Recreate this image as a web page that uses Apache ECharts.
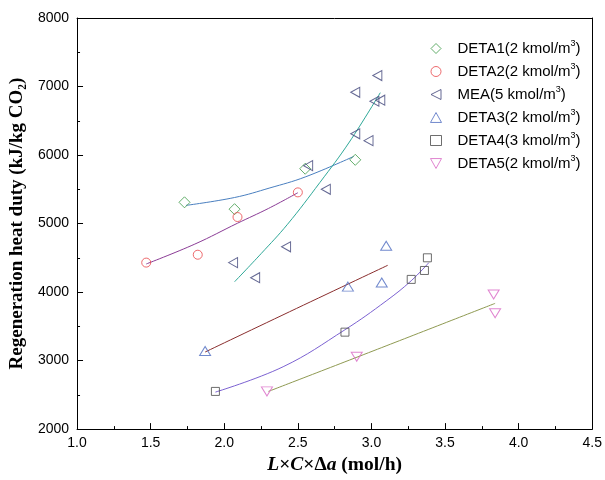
<!DOCTYPE html>
<html><head><meta charset="utf-8">
<script src="https://cdn.jsdelivr.net/npm/echarts@6/dist/echarts.min.js"></script>
<style>html,body{margin:0;padding:0;background:#fff}#c{width:605px;height:480px}</style>
</head><body><div id="c"></div>
<script>
const names = ['DETA1', 'DETA2', 'MEA', 'DETA3', 'DETA4', 'DETA5'];
const concs = ['2', '2', '5', '2', '3', '2'];
const deta1X = [1.73, 2.07, 2.55, 2.89];
const deta1Y = [5310, 5210, 5800, 5930];
const deta2X = [1.47, 1.82, 2.09, 2.50];
const deta2Y = [4430, 4545, 5095, 5455];
const meaX = [2.06, 2.21, 2.42, 2.57, 2.69, 2.89, 2.98, 2.89, 3.02, 3.06, 3.04];
const meaY = [4430, 4210, 4660, 5845, 5500, 6310, 6210, 6915, 6785, 6800, 7160];
const deta3X = [1.87, 2.84, 3.07, 3.10];
const deta3Y = [3140, 4080, 4140, 4675];
const deta4X = [1.94, 2.82, 3.27, 3.36, 3.38];
const deta4Y = [2550, 3415, 4185, 4315, 4500];
const deta5X = [2.29, 2.90, 3.83, 3.84];
const deta5Y = [2550, 3055, 3965, 3690];
// fitted curves
const fit1X = [1.74, 2.07, 2.31, 2.55, 2.88];
const fit1Y = [5265, 5380, 5520, 5680, 5980];
const fit2X = [1.47, 1.80, 2.09, 2.30, 2.50];
const fit2Y = [4410, 4700, 5005, 5220, 5450];
const fitMX = [2.07, 2.25, 2.43, 2.65, 2.85, 3.06];
const fitMY = [4150, 4560, 4990, 5600, 6190, 6910];
const fit3X = [1.87, 2.49, 3.11];
const fit3Y = [3125, 3760, 4390];
const fit4X = [1.94, 2.40, 2.82, 3.10, 3.27, 3.39];
const fit4Y = [2540, 2910, 3450, 3870, 4165, 4430];
const fit5X = [2.30, 3.07, 3.84];
const fit5Y = [2550, 3190, 3835];

const zip = (xs, ys) => xs.map((x, i) => [x, ys[i]]);
const ptsX = [deta1X, deta2X, meaX, deta3X, deta4X, deta5X];
const ptsY = [deta1Y, deta2Y, meaY, deta3Y, deta4Y, deta5Y];
const markColors = ['#3c9a46', '#e8464a', '#3d4278', '#4d6cc0', '#4a4a4a', '#d866c4'];
const symbols = ['path://M5,0 L10,5 L5,10 L0,5 Z', 'circle', 'path://M0,5 L10,0 L10,10 Z',
  'path://M5,0 L10,9 L0,9 Z', 'rect', 'path://M0,0 L10,0 L5,9 Z'];
const sizes = [[11, 11], 9, [9, 10], [11, 9], [8, 8], [11, 9]];
const fitX = [fit1X, fit2X, fitMX, fit3X, fit4X, fit5X];
const fitY = [fit1Y, fit2Y, fitMY, fit3Y, fit4Y, fit5Y];
const fitColors = ['#4a7fc0', '#8b3c96', '#2ea898', '#8a2e2e', '#7c62d2', '#8f9a52'];

const series = [];
names.forEach((n, i) => {
  series.push({
    name: n, type: 'scatter', data: zip(ptsX[i], ptsY[i]),
    symbol: symbols[i], symbolSize: sizes[i],
    itemStyle: { color: 'rgba(255,255,255,0)', borderColor: markColors[i], borderWidth: 1 },
    z: 3
  });
});
names.forEach((n, i) => {
  series.push({
    name: n + ' fit', type: 'line', data: zip(fitX[i], fitY[i]),
    smooth: 0.4, showSymbol: false, symbol: 'none',
    lineStyle: { color: fitColors[i], width: 1 }, z: 2
  });
});

const chart = echarts.init(document.getElementById('c'), null, { renderer: 'canvas' });
chart.setOption({
  animation: false,
  backgroundColor: '#fff',
  grid: { left: 76, right: 12, top: 18, bottom: 47 },
  legend: {
    data: names, orient: 'vertical', left: 425, top: 34,
    itemWidth: 11, itemHeight: 10, itemGap: 6,
    itemStyle: { borderWidth: 1 },
    formatter: function (name) {
      const i = names.indexOf(name);
      return '{a|' + name + '(' + concs[i] + ' kmol/m}{s|3}{a|)}';
    },
    textStyle: {
      color: '#000', padding: [0, 0, 0, 11],
      rich: {
        a: { fontFamily: 'Liberation Sans, Arial', fontSize: 15, color: '#000' },
        s: { fontFamily: 'Liberation Sans, Arial', fontSize: 9, color: '#000', padding: [0, 0, 10, 0] }
      }
    }
  },
  xAxis: [{
    type: 'value', min: 1.0, max: 4.5, interval: 0.5,
    name: '{i|L}{n|×}{i|C}{n|×Δ}{i|a}{n| (mol/h)}', nameLocation: 'middle', nameGap: 24,
    nameTextStyle: {
      rich: {
        i: { fontFamily: 'Liberation Serif, Times New Roman', fontSize: 19.5, fontWeight: 'bold', fontStyle: 'italic', color: '#000' },
        n: { fontFamily: 'Liberation Serif, Times New Roman', fontSize: 19.5, fontWeight: 'bold', color: '#000' }
      }
    },
    axisLine: { lineStyle: { color: '#000', width: 1 } },
    axisTick: { inside: true, length: 6, lineStyle: { color: '#000' } },
    minorTick: { show: true, splitNumber: 2, length: 3, lineStyle: { color: '#000' } },
    axisLabel: { formatter: v => v.toFixed(1), color: '#000', fontSize: 14, margin: 7, fontFamily: 'Liberation Sans, Arial' },
    splitLine: { show: false }
  }, {
    type: 'value', position: 'top', min: 1.0, max: 4.5, interval: 0.5,
    axisLine: { show: true, lineStyle: { color: '#000', width: 1 } },
    axisTick: { show: false }, axisLabel: { show: false }, splitLine: { show: false }
  }],
  yAxis: [{
    type: 'value', min: 2000, max: 8000, interval: 1000,
    name: 'Regeneration heat duty (kJ/kg CO₂)', nameLocation: 'middle', nameGap: 40, nameRotate: 90,
    nameTextStyle: { fontFamily: 'Liberation Serif, Times New Roman', fontSize: 19, fontWeight: 'bold', color: '#000' },
    axisLine: { show: true, lineStyle: { color: '#000', width: 1 } },
    axisTick: { inside: true, length: 6, lineStyle: { color: '#000' } },
    minorTick: { show: true, splitNumber: 2, length: 3, lineStyle: { color: '#000' } },
    axisLabel: { formatter: v => String(v), color: '#000', fontSize: 14, margin: 8, fontFamily: 'Liberation Sans, Arial' },
    splitLine: { show: false }
  }, {
    type: 'value', position: 'right', min: 2000, max: 8000, interval: 1000,
    axisLine: { show: true, lineStyle: { color: '#000', width: 1 } },
    axisTick: { show: false }, axisLabel: { show: false }, splitLine: { show: false }
  }],
  series: series
});
</script></body></html>
